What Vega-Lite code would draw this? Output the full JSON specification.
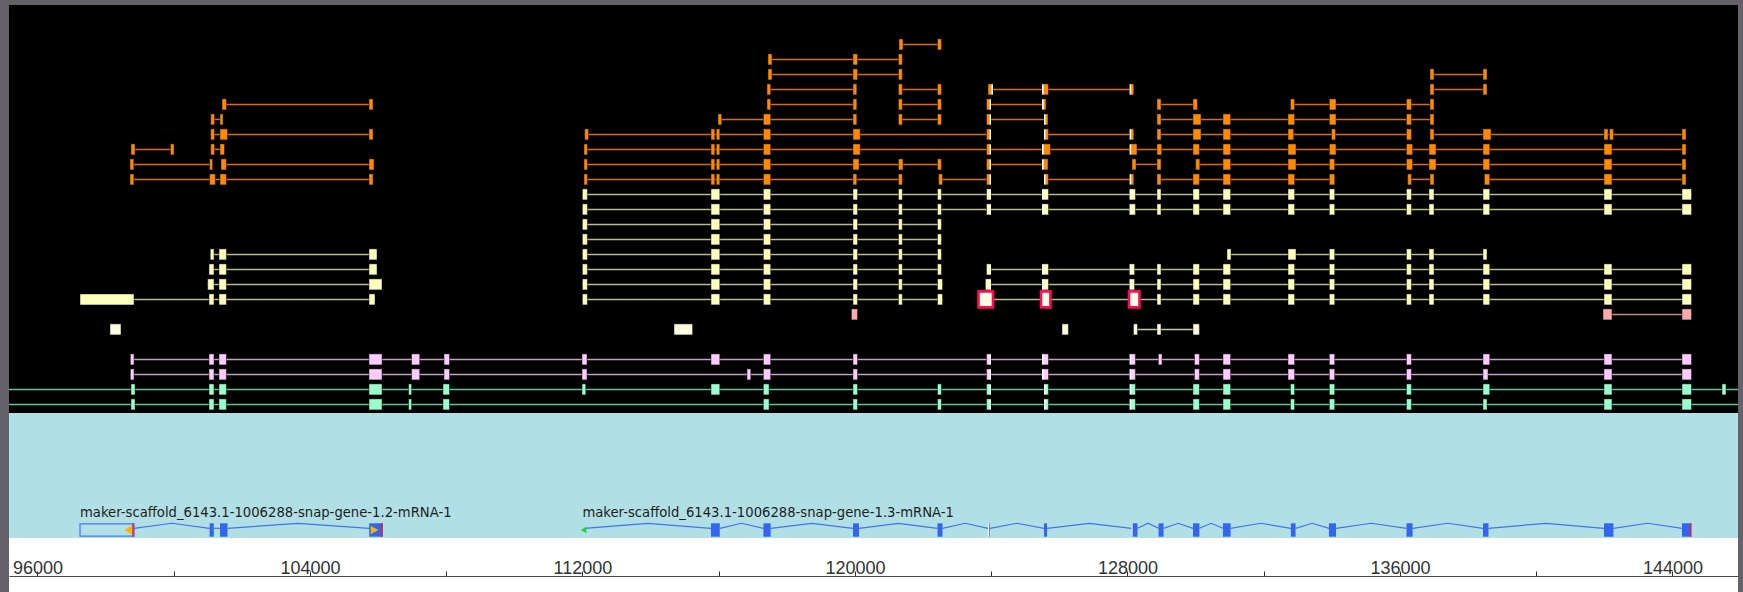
{
  "$schema": "https://vega.github.io/schema/vega-lite/v6.json",
  "background": "#646268",
  "padding": {"left": 8, "top": 5, "right": 6, "bottom": 0},
  "autosize": {"type": "pad"},
  "spacing": 0,
  "config": {"view": {"stroke": null}, "concat": {"spacing": 0}},
  "resolve": {"scale": {"x": "independent", "y": "independent", "fill": "independent", "stroke": "independent", "shape": "independent"}},
  "datasets": {
    "feat": [
      {"r":0,"t":"o","s":121294,"e":122539},
      {"r":1,"t":"o","s":117448,"e":121391},
      {"r":2,"t":"o","s":117448,"e":121391},{"r":2,"t":"o","s":136883,"e":138556},
      {"r":3,"t":"o","s":117419,"e":120055},{"r":3,"t":"o","s":121279,"e":122539},{"r":3,"t":"o","s":123907,"e":128187},{"r":3,"t":"o","s":136883,"e":138556},
      {"r":4,"t":"o","s":101419,"e":105852},{"r":4,"t":"o","s":117419,"e":120055},{"r":4,"t":"o","s":121279,"e":122539},{"r":4,"t":"o","s":123863,"e":125610},{"r":4,"t":"o","s":128868,"e":130054},{"r":4,"t":"o","s":132787,"e":137000},
      {"r":5,"t":"o","s":101088,"e":101449},{"r":5,"t":"o","s":115980,"e":120055},{"r":5,"t":"o","s":121279,"e":122539},{"r":5,"t":"o","s":123863,"e":125668},{"r":5,"t":"o","s":128868,"e":137000},
      {"r":6,"t":"o","s":101088,"e":105852},{"r":6,"t":"o","s":112067,"e":123995},{"r":6,"t":"o","s":125551,"e":128187},{"r":6,"t":"o","s":128868,"e":136337},{"r":6,"t":"o","s":136883,"e":144398},
      {"r":7,"t":"o","s":98748,"e":100010},{"r":7,"t":"o","s":101088,"e":101493},{"r":7,"t":"o","s":112047,"e":144398},
      {"r":8,"t":"o","s":98718,"e":101143},{"r":8,"t":"o","s":101390,"e":105882},{"r":8,"t":"o","s":112047,"e":122539},{"r":8,"t":"o","s":123863,"e":125668},{"r":8,"t":"o","s":128134,"e":128986},{"r":8,"t":"o","s":130004,"e":144398},
      {"r":9,"t":"o","s":98718,"e":105852},{"r":9,"t":"o","s":112047,"e":121391},{"r":9,"t":"o","s":122459,"e":123995},{"r":9,"t":"o","s":125551,"e":128187},{"r":9,"t":"o","s":128868,"e":134085},{"r":9,"t":"o","s":136228,"e":137000},{"r":9,"t":"o","s":138480,"e":144398},
      {"r":10,"t":"y","s":112000,"e":144559},
      {"r":11,"t":"y","s":112000,"e":144559},
      {"r":12,"t":"y","s":112000,"e":122539},
      {"r":13,"t":"y","s":112000,"e":122539},
      {"r":14,"t":"y","s":101076,"e":105970},{"r":14,"t":"y","s":112000,"e":122539},{"r":14,"t":"y","s":130923,"e":138556},
      {"r":15,"t":"y","s":101038,"e":105970},{"r":15,"t":"y","s":112000,"e":122539},{"r":15,"t":"y","s":123863,"e":144559},
      {"r":16,"t":"y","s":100999,"e":106117},{"r":16,"t":"y","s":112000,"e":122571},{"r":16,"t":"y","s":123830,"e":144559},
      {"r":17,"t":"y","s":97251,"e":105911},{"r":17,"t":"y","s":112000,"e":122571},{"r":17,"t":"y","s":123628,"e":144559},
      {"r":18,"t":"s","s":141962,"e":144559},
      {"r":19,"t":"c","s":128178,"e":130113},
      {"r":21,"t":"p","s":98730,"e":144559},
      {"r":22,"t":"p","s":98730,"e":144559},
      {"r":23,"t":"g","s":95166,"e":145925},
      {"r":24,"t":"g","s":95166,"e":145925}
    ],
    "ex": [
      {"r":0,"t":"o","s":121294,"e":121411},{"r":0,"t":"o","s":122424,"e":122539},
      {"r":1,"t":"o","s":117448,"e":117566},{"r":1,"t":"o","s":119943,"e":120076},{"r":1,"t":"o","s":121279,"e":121391},
      {"r":2,"t":"o","s":117448,"e":117566},{"r":2,"t":"o","s":119943,"e":120076},{"r":2,"t":"o","s":121279,"e":121391},{"r":2,"t":"o","s":136883,"e":137000},{"r":2,"t":"o","s":138439,"e":138556},
      {"r":3,"t":"o","s":117419,"e":117527},{"r":3,"t":"o","s":119943,"e":120055},{"r":3,"t":"o","s":121279,"e":121391},{"r":3,"t":"o","s":122424,"e":122539},{"r":3,"t":"o","s":123907,"e":124054},{"r":3,"t":"o","s":125492,"e":125683},{"r":3,"t":"o","s":128066,"e":128187},{"r":3,"t":"o","s":136883,"e":137000},{"r":3,"t":"o","s":138439,"e":138556},
      {"r":4,"t":"o","s":101419,"e":101551},{"r":4,"t":"o","s":105735,"e":105852},{"r":4,"t":"o","s":117419,"e":117527},{"r":4,"t":"o","s":119943,"e":120055},{"r":4,"t":"o","s":121279,"e":121391},{"r":4,"t":"o","s":122424,"e":122539},{"r":4,"t":"o","s":123863,"e":123995},{"r":4,"t":"o","s":125492,"e":125610},{"r":4,"t":"o","s":128868,"e":128986},{"r":4,"t":"o","s":129925,"e":130054},{"r":4,"t":"o","s":132787,"e":132908},{"r":4,"t":"o","s":133929,"e":134123},{"r":4,"t":"o","s":136193,"e":136337},{"r":4,"t":"o","s":136883,"e":137000},
      {"r":5,"t":"o","s":101088,"e":101199},{"r":5,"t":"o","s":101361,"e":101449},{"r":5,"t":"o","s":115980,"e":116089},{"r":5,"t":"o","s":117313,"e":117527},{"r":5,"t":"o","s":119943,"e":120055},{"r":5,"t":"o","s":121279,"e":121391},{"r":5,"t":"o","s":122424,"e":122539},{"r":5,"t":"o","s":123863,"e":123995},{"r":5,"t":"o","s":125551,"e":125668},{"r":5,"t":"o","s":128868,"e":128986},{"r":5,"t":"o","s":129925,"e":130160},{"r":5,"t":"o","s":130806,"e":131029},{"r":5,"t":"o","s":132714,"e":132908},{"r":5,"t":"o","s":133929,"e":134123},{"r":5,"t":"o","s":136193,"e":136337},{"r":5,"t":"o","s":136883,"e":137000},
      {"r":6,"t":"o","s":101088,"e":101199},{"r":6,"t":"o","s":101361,"e":101581},{"r":6,"t":"o","s":105735,"e":105852},{"r":6,"t":"o","s":112067,"e":112179},{"r":6,"t":"o","s":115775,"e":115886},{"r":6,"t":"o","s":115931,"e":116033},{"r":6,"t":"o","s":117313,"e":117527},{"r":6,"t":"o","s":119943,"e":120155},{"r":6,"t":"o","s":123863,"e":123995},{"r":6,"t":"o","s":125551,"e":125683},{"r":6,"t":"o","s":128066,"e":128187},{"r":6,"t":"o","s":128868,"e":128986},{"r":6,"t":"o","s":129925,"e":130160},{"r":6,"t":"o","s":130806,"e":131029},{"r":6,"t":"o","s":132714,"e":132881},{"r":6,"t":"o","s":133991,"e":134108},{"r":6,"t":"o","s":136193,"e":136337},{"r":6,"t":"o","s":136883,"e":137000},{"r":6,"t":"o","s":138439,"e":138674},{"r":6,"t":"o","s":141991,"e":142108},{"r":6,"t":"o","s":142152,"e":142269},{"r":6,"t":"o","s":144281,"e":144398},
      {"r":7,"t":"o","s":98748,"e":98865},{"r":7,"t":"o","s":99907,"e":100010},{"r":7,"t":"o","s":101088,"e":101199},{"r":7,"t":"o","s":101361,"e":101493},{"r":7,"t":"o","s":112047,"e":112146},{"r":7,"t":"o","s":115775,"e":115886},{"r":7,"t":"o","s":115931,"e":116033},{"r":7,"t":"o","s":117313,"e":117527},{"r":7,"t":"o","s":119943,"e":120155},{"r":7,"t":"o","s":123863,"e":123995},{"r":7,"t":"o","s":125492,"e":125739},{"r":7,"t":"o","s":128066,"e":128281},{"r":7,"t":"o","s":128868,"e":129006},{"r":7,"t":"o","s":129925,"e":130113},{"r":7,"t":"o","s":130806,"e":131029},{"r":7,"t":"o","s":132714,"e":132949},{"r":7,"t":"o","s":133929,"e":134123},{"r":7,"t":"o","s":136193,"e":136372},{"r":7,"t":"o","s":136854,"e":137059},{"r":7,"t":"o","s":138439,"e":138636},{"r":7,"t":"o","s":141991,"e":142225},{"r":7,"t":"o","s":144281,"e":144398},
      {"r":8,"t":"o","s":98718,"e":98830},{"r":8,"t":"o","s":101055,"e":101143},{"r":8,"t":"o","s":101390,"e":101548},{"r":8,"t":"o","s":105735,"e":105882},{"r":8,"t":"o","s":112047,"e":112146},{"r":8,"t":"o","s":115775,"e":115886},{"r":8,"t":"o","s":115931,"e":116033},{"r":8,"t":"o","s":117313,"e":117527},{"r":8,"t":"o","s":119943,"e":120120},{"r":8,"t":"o","s":121279,"e":121411},{"r":8,"t":"o","s":122424,"e":122539},{"r":8,"t":"o","s":123863,"e":123995},{"r":8,"t":"o","s":125492,"e":125668},{"r":8,"t":"o","s":128134,"e":128252},{"r":8,"t":"o","s":128868,"e":128986},{"r":8,"t":"o","s":130004,"e":130125},{"r":8,"t":"o","s":130806,"e":131029},{"r":8,"t":"o","s":132714,"e":132949},{"r":8,"t":"o","s":133929,"e":134085},{"r":8,"t":"o","s":136193,"e":136372},{"r":8,"t":"o","s":136854,"e":137059},{"r":8,"t":"o","s":138439,"e":138636},{"r":8,"t":"o","s":141991,"e":142225},{"r":8,"t":"o","s":144281,"e":144398},
      {"r":9,"t":"o","s":98718,"e":98830},{"r":9,"t":"o","s":101055,"e":101223},{"r":9,"t":"o","s":101361,"e":101548},{"r":9,"t":"o","s":105735,"e":105852},{"r":9,"t":"o","s":112047,"e":112146},{"r":9,"t":"o","s":115775,"e":115886},{"r":9,"t":"o","s":115931,"e":116033},{"r":9,"t":"o","s":117313,"e":117527},{"r":9,"t":"o","s":119943,"e":120055},{"r":9,"t":"o","s":121279,"e":121391},{"r":9,"t":"o","s":122459,"e":122571},{"r":9,"t":"o","s":123863,"e":123995},{"r":9,"t":"o","s":125551,"e":125683},{"r":9,"t":"o","s":128066,"e":128187},{"r":9,"t":"o","s":128868,"e":128986},{"r":9,"t":"o","s":129925,"e":130113},{"r":9,"t":"o","s":130806,"e":131029},{"r":9,"t":"o","s":132714,"e":132908},{"r":9,"t":"o","s":133929,"e":134085},{"r":9,"t":"o","s":136228,"e":136337},{"r":9,"t":"o","s":136883,"e":137000},{"r":9,"t":"o","s":138480,"e":138636},{"r":9,"t":"o","s":141991,"e":142225},{"r":9,"t":"o","s":144281,"e":144398},
      {"r":10,"t":"y","s":112000,"e":112146},{"r":10,"t":"y","s":115775,"e":116033},{"r":10,"t":"y","s":117313,"e":117527},{"r":10,"t":"y","s":119943,"e":120076},{"r":10,"t":"y","s":121279,"e":121391},{"r":10,"t":"y","s":122424,"e":122539},{"r":10,"t":"y","s":123863,"e":123995},{"r":10,"t":"y","s":125492,"e":125683},{"r":10,"t":"y","s":128066,"e":128235},{"r":10,"t":"y","s":128868,"e":128986},{"r":10,"t":"y","s":129925,"e":130113},{"r":10,"t":"y","s":130806,"e":131029},{"r":10,"t":"y","s":132714,"e":132908},{"r":10,"t":"y","s":133929,"e":134085},{"r":10,"t":"y","s":136193,"e":136337},{"r":10,"t":"y","s":136854,"e":137000},{"r":10,"t":"y","s":138439,"e":138636},{"r":10,"t":"y","s":141991,"e":142225},{"r":10,"t":"y","s":144281,"e":144559},
      {"r":11,"t":"y","s":112000,"e":112146},{"r":11,"t":"y","s":115775,"e":116033},{"r":11,"t":"y","s":117313,"e":117527},{"r":11,"t":"y","s":119943,"e":120076},{"r":11,"t":"y","s":121279,"e":121391},{"r":11,"t":"y","s":122424,"e":122539},{"r":11,"t":"y","s":123863,"e":123995},{"r":11,"t":"y","s":125492,"e":125683},{"r":11,"t":"y","s":128066,"e":128235},{"r":11,"t":"y","s":128868,"e":128986},{"r":11,"t":"y","s":129925,"e":130113},{"r":11,"t":"y","s":130806,"e":131029},{"r":11,"t":"y","s":132714,"e":132908},{"r":11,"t":"y","s":133929,"e":134085},{"r":11,"t":"y","s":136193,"e":136337},{"r":11,"t":"y","s":136854,"e":137000},{"r":11,"t":"y","s":138439,"e":138636},{"r":11,"t":"y","s":141991,"e":142225},{"r":11,"t":"y","s":144281,"e":144559},
      {"r":12,"t":"y","s":112000,"e":112146},{"r":12,"t":"y","s":115775,"e":116033},{"r":12,"t":"y","s":117313,"e":117527},{"r":12,"t":"y","s":119943,"e":120076},{"r":12,"t":"y","s":121279,"e":121391},{"r":12,"t":"y","s":122424,"e":122539},
      {"r":13,"t":"y","s":112000,"e":112146},{"r":13,"t":"y","s":115775,"e":116033},{"r":13,"t":"y","s":117313,"e":117527},{"r":13,"t":"y","s":119943,"e":120076},{"r":13,"t":"y","s":121279,"e":121391},{"r":13,"t":"y","s":122424,"e":122539},
      {"r":14,"t":"y","s":101076,"e":101184},{"r":14,"t":"y","s":101331,"e":101548},{"r":14,"t":"y","s":105735,"e":105970},{"r":14,"t":"y","s":112000,"e":112146},{"r":14,"t":"y","s":115775,"e":116033},{"r":14,"t":"y","s":117313,"e":117527},{"r":14,"t":"y","s":119943,"e":120076},{"r":14,"t":"y","s":121279,"e":121391},{"r":14,"t":"y","s":122424,"e":122539},{"r":14,"t":"y","s":130923,"e":131041},{"r":14,"t":"y","s":132714,"e":132949},{"r":14,"t":"y","s":133929,"e":134085},{"r":14,"t":"y","s":136193,"e":136337},{"r":14,"t":"y","s":136854,"e":137000},{"r":14,"t":"y","s":138439,"e":138556},
      {"r":15,"t":"y","s":101038,"e":101184},{"r":15,"t":"y","s":101331,"e":101548},{"r":15,"t":"y","s":105735,"e":105970},{"r":15,"t":"y","s":112000,"e":112146},{"r":15,"t":"y","s":115775,"e":116033},{"r":15,"t":"y","s":117313,"e":117527},{"r":15,"t":"y","s":119943,"e":120076},{"r":15,"t":"y","s":121279,"e":121391},{"r":15,"t":"y","s":122424,"e":122539},{"r":15,"t":"y","s":123863,"e":123995},{"r":15,"t":"y","s":125492,"e":125683},{"r":15,"t":"y","s":128066,"e":128210},{"r":15,"t":"y","s":128868,"e":128986},{"r":15,"t":"y","s":129925,"e":130113},{"r":15,"t":"y","s":130806,"e":131029},{"r":15,"t":"y","s":132714,"e":132908},{"r":15,"t":"y","s":133929,"e":134085},{"r":15,"t":"y","s":136193,"e":136337},{"r":15,"t":"y","s":136854,"e":137000},{"r":15,"t":"y","s":138439,"e":138636},{"r":15,"t":"y","s":141991,"e":142225},{"r":15,"t":"y","s":144281,"e":144559},
      {"r":16,"t":"y","s":100999,"e":101184},{"r":16,"t":"y","s":101331,"e":101548},{"r":16,"t":"y","s":105735,"e":106117},{"r":16,"t":"y","s":112000,"e":112146},{"r":16,"t":"y","s":115775,"e":116033},{"r":16,"t":"y","s":117313,"e":117527},{"r":16,"t":"y","s":119943,"e":120076},{"r":16,"t":"y","s":121279,"e":121391},{"r":16,"t":"y","s":122424,"e":122571},{"r":16,"t":"y","s":123830,"e":123995},{"r":16,"t":"y","s":125492,"e":125683},{"r":16,"t":"y","s":128066,"e":128210},{"r":16,"t":"y","s":128868,"e":128986},{"r":16,"t":"y","s":129925,"e":130113},{"r":16,"t":"y","s":130806,"e":131029},{"r":16,"t":"y","s":132714,"e":132908},{"r":16,"t":"y","s":133929,"e":134085},{"r":16,"t":"y","s":136193,"e":136337},{"r":16,"t":"y","s":136854,"e":137000},{"r":16,"t":"y","s":138439,"e":138636},{"r":16,"t":"y","s":141991,"e":142225},{"r":16,"t":"y","s":144281,"e":144559},
      {"r":17,"t":"y","s":97251,"e":98836},{"r":17,"t":"y","s":101038,"e":101184},{"r":17,"t":"y","s":101331,"e":101548},{"r":17,"t":"y","s":105735,"e":105911},{"r":17,"t":"y","s":112000,"e":112146},{"r":17,"t":"y","s":115775,"e":116033},{"r":17,"t":"y","s":117313,"e":117527},{"r":17,"t":"y","s":119943,"e":120076},{"r":17,"t":"y","s":121279,"e":121391},{"r":17,"t":"y","s":122424,"e":122571},{"r":17,"t":"y","s":128868,"e":128986},{"r":17,"t":"y","s":129925,"e":130113},{"r":17,"t":"y","s":130806,"e":131029},{"r":17,"t":"y","s":132714,"e":132908},{"r":17,"t":"y","s":133929,"e":134085},{"r":17,"t":"y","s":136193,"e":136337},{"r":17,"t":"y","s":136854,"e":137000},{"r":17,"t":"y","s":138439,"e":138636},{"r":17,"t":"y","s":141991,"e":142225},{"r":17,"t":"y","s":144281,"e":144559},
      {"r":18,"t":"s","s":119897,"e":120076},{"r":18,"t":"s","s":141962,"e":142225},{"r":18,"t":"s","s":144281,"e":144559},
      {"r":19,"t":"c","s":98131,"e":98454},{"r":19,"t":"c","s":114689,"e":115235},{"r":19,"t":"c","s":126079,"e":126267},{"r":19,"t":"c","s":128178,"e":128296},{"r":19,"t":"c","s":128868,"e":128986},{"r":19,"t":"c","s":129925,"e":130113},
      {"r":21,"t":"p","s":98730,"e":98836},{"r":21,"t":"p","s":101038,"e":101184},{"r":21,"t":"p","s":101331,"e":101548},{"r":21,"t":"p","s":105735,"e":106117},{"r":21,"t":"p","s":106985,"e":107223},{"r":21,"t":"p","s":107937,"e":108098},{"r":21,"t":"p","s":111988,"e":112135},{"r":21,"t":"p","s":115775,"e":116033},{"r":21,"t":"p","s":117313,"e":117527},{"r":21,"t":"p","s":119943,"e":120076},{"r":21,"t":"p","s":123863,"e":123995},{"r":21,"t":"p","s":125492,"e":125683},{"r":21,"t":"p","s":128066,"e":128235},{"r":21,"t":"p","s":128909,"e":129015},{"r":21,"t":"p","s":129969,"e":130113},{"r":21,"t":"p","s":130806,"e":131029},{"r":21,"t":"p","s":132714,"e":132908},{"r":21,"t":"p","s":133929,"e":134085},{"r":21,"t":"p","s":136193,"e":136337},{"r":21,"t":"p","s":138439,"e":138636},{"r":21,"t":"p","s":141991,"e":142225},{"r":21,"t":"p","s":144281,"e":144559},
      {"r":22,"t":"p","s":98730,"e":98836},{"r":22,"t":"p","s":101038,"e":101184},{"r":22,"t":"p","s":101331,"e":101548},{"r":22,"t":"p","s":105735,"e":106117},{"r":22,"t":"p","s":106985,"e":107223},{"r":22,"t":"p","s":107937,"e":108098},{"r":22,"t":"p","s":111988,"e":112135},{"r":22,"t":"p","s":116832,"e":116943},{"r":22,"t":"p","s":117313,"e":117527},{"r":22,"t":"p","s":119943,"e":120076},{"r":22,"t":"p","s":123863,"e":123995},{"r":22,"t":"p","s":125492,"e":125683},{"r":22,"t":"p","s":128066,"e":128235},{"r":22,"t":"p","s":129969,"e":130113},{"r":22,"t":"p","s":130806,"e":131029},{"r":22,"t":"p","s":132714,"e":132908},{"r":22,"t":"p","s":133929,"e":134085},{"r":22,"t":"p","s":136193,"e":136337},{"r":22,"t":"p","s":138439,"e":138585},{"r":22,"t":"p","s":141991,"e":142225},{"r":22,"t":"p","s":144281,"e":144559},
      {"r":23,"t":"g","s":98748,"e":98865},{"r":23,"t":"g","s":101038,"e":101184},{"r":23,"t":"g","s":101331,"e":101548},{"r":23,"t":"g","s":105735,"e":106117},{"r":23,"t":"g","s":106897,"e":106985},{"r":23,"t":"g","s":107907,"e":108098},{"r":23,"t":"g","s":111988,"e":112099},{"r":23,"t":"g","s":115775,"e":116033},{"r":23,"t":"g","s":117313,"e":117480},{"r":23,"t":"g","s":119943,"e":120076},{"r":23,"t":"g","s":122424,"e":122539},{"r":23,"t":"g","s":123863,"e":123995},{"r":23,"t":"g","s":125551,"e":125683},{"r":23,"t":"g","s":128066,"e":128235},{"r":23,"t":"g","s":129925,"e":130113},{"r":23,"t":"g","s":130806,"e":131029},{"r":23,"t":"g","s":132787,"e":132908},{"r":23,"t":"g","s":133929,"e":134085},{"r":23,"t":"g","s":136193,"e":136337},{"r":23,"t":"g","s":138439,"e":138636},{"r":23,"t":"g","s":141991,"e":142225},{"r":23,"t":"g","s":144281,"e":144559},{"r":23,"t":"g","s":145456,"e":145573},
      {"r":24,"t":"g","s":98748,"e":98865},{"r":24,"t":"g","s":101038,"e":101184},{"r":24,"t":"g","s":101331,"e":101548},{"r":24,"t":"g","s":105735,"e":106117},{"r":24,"t":"g","s":106897,"e":106985},{"r":24,"t":"g","s":107907,"e":108098},{"r":24,"t":"g","s":117313,"e":117480},{"r":24,"t":"g","s":119943,"e":120076},{"r":24,"t":"g","s":122424,"e":122539},{"r":24,"t":"g","s":123863,"e":123995},{"r":24,"t":"g","s":125551,"e":125683},{"r":24,"t":"g","s":128066,"e":128235},{"r":24,"t":"g","s":129925,"e":130113},{"r":24,"t":"g","s":130806,"e":131029},{"r":24,"t":"g","s":132787,"e":132908},{"r":24,"t":"g","s":133929,"e":134085},{"r":24,"t":"g","s":136193,"e":136337},{"r":24,"t":"g","s":138439,"e":138556},{"r":24,"t":"g","s":141991,"e":142225},{"r":24,"t":"g","s":144281,"e":144559}
    ],
    "sel": [
      {"r":17,"s":123628,"e":124054},{"r":17,"s":125463,"e":125739},{"r":17,"s":128046,"e":128354}
    ],
    "ws": [
      {"r":3,"s":124010,"e":124054},
      {"r":4,"s":123955,"e":123995},{"r":5,"s":123955,"e":123995},{"r":6,"s":123955,"e":123995},{"r":7,"s":123955,"e":123995},{"r":8,"s":123955,"e":123995},{"r":9,"s":123955,"e":123995},{"r":10,"s":123955,"e":123995},{"r":11,"s":123955,"e":123995},{"r":15,"s":123955,"e":123995},{"r":16,"s":123955,"e":123995},{"r":21,"s":123955,"e":123995},{"r":22,"s":123955,"e":123995},{"r":23,"s":123955,"e":123995},{"r":24,"s":123955,"e":123995},
      {"r":3,"s":125492,"e":125540},{"r":4,"s":125492,"e":125540},{"r":7,"s":125492,"e":125540},{"r":8,"s":125492,"e":125540},{"r":10,"s":125492,"e":125540},{"r":11,"s":125492,"e":125540},{"r":15,"s":125492,"e":125540},{"r":16,"s":125492,"e":125540},{"r":21,"s":125492,"e":125540},{"r":22,"s":125492,"e":125540},
      {"r":5,"s":125551,"e":125595},{"r":6,"s":125551,"e":125595},{"r":9,"s":125551,"e":125595},{"r":23,"s":125551,"e":125595},{"r":24,"s":125551,"e":125595},
      {"r":3,"s":128066,"e":128110},{"r":6,"s":128066,"e":128110},{"r":7,"s":128066,"e":128110},{"r":9,"s":128066,"e":128110},{"r":10,"s":128066,"e":128110},{"r":11,"s":128066,"e":128110},{"r":15,"s":128066,"e":128110},{"r":16,"s":128066,"e":128110},{"r":21,"s":128066,"e":128110},{"r":22,"s":128066,"e":128110},{"r":23,"s":128066,"e":128110},{"r":24,"s":128066,"e":128110}
    ],
    "hat": [
      {"h":"a1","x":98836,"v":0.28},{"h":"a1","x":99945,"v":1.12},{"h":"a1","x":101055,"v":0.28},
      {"h":"a2","x":101178,"v":0.28},{"h":"a2","x":101361,"v":0.28},
      {"h":"a3","x":101581,"v":0.28},{"h":"a3","x":103660,"v":1.12},{"h":"a3","x":105740,"v":0.28},
      {"h":"b1","x":112060,"v":0.28},{"h":"b1","x":113918,"v":1.12},{"h":"b1","x":115775,"v":0.28},
      {"h":"b2","x":116033,"v":0.28},{"h":"b2","x":116673,"v":1.12},{"h":"b2","x":117313,"v":0.28},
      {"h":"b3","x":117527,"v":0.28},{"h":"b3","x":118735,"v":1.12},{"h":"b3","x":119943,"v":0.28},
      {"h":"b4","x":120120,"v":0.28},{"h":"b4","x":121272,"v":1.12},{"h":"b4","x":122424,"v":0.28},
      {"h":"b5","x":122571,"v":0.28},{"h":"b5","x":123239,"v":1.12},{"h":"b5","x":123907,"v":0.28},
      {"h":"b6","x":123966,"v":0.28},{"h":"b6","x":124759,"v":1.12},{"h":"b6","x":125551,"v":0.28},
      {"h":"b7","x":125640,"v":0.28},{"h":"b7","x":126880,"v":1.12},{"h":"b7","x":128120,"v":0.28},
      {"h":"b8","x":128296,"v":0.28},{"h":"b8","x":128605,"v":1.12},{"h":"b8","x":128914,"v":0.28},
      {"h":"b9","x":129060,"v":0.28},{"h":"b9","x":129493,"v":1.12},{"h":"b9","x":129925,"v":0.28},
      {"h":"b10","x":130113,"v":0.28},{"h":"b10","x":130460,"v":1.12},{"h":"b10","x":130806,"v":0.28},
      {"h":"b11","x":131029,"v":0.28},{"h":"b11","x":131914,"v":1.12},{"h":"b11","x":132798,"v":0.28},
      {"h":"b12","x":132937,"v":0.28},{"h":"b12","x":133427,"v":1.12},{"h":"b12","x":133916,"v":0.28},
      {"h":"b13","x":134123,"v":0.28},{"h":"b13","x":135158,"v":1.12},{"h":"b13","x":136193,"v":0.28},
      {"h":"b14","x":136372,"v":0.28},{"h":"b14","x":137406,"v":1.12},{"h":"b14","x":138439,"v":0.28},
      {"h":"b15","x":138600,"v":0.28},{"h":"b15","x":140296,"v":1.12},{"h":"b15","x":141991,"v":0.28},
      {"h":"b16","x":142269,"v":0.28},{"h":"b16","x":143275,"v":1.12},{"h":"b16","x":144281,"v":0.28}
    ],
    "gex": [
      {"s":101055,"e":101178,"v":0},{"s":101361,"e":101581,"v":0},{"s":105740,"e":106145,"v":0},
      {"s":115775,"e":116033,"v":0},{"s":117313,"e":117527,"v":0},{"s":119943,"e":120120,"v":0},{"s":122424,"e":122571,"v":0},{"s":123907,"e":123966,"v":0},{"s":125551,"e":125640,"v":0},{"s":128120,"e":128296,"v":0},{"s":128914,"e":129060,"v":0},{"s":129925,"e":130113,"v":0},{"s":130806,"e":131029,"v":0},{"s":132798,"e":132937,"v":0},{"s":133916,"e":134123,"v":0},{"s":136193,"e":136372,"v":0},{"s":138439,"e":138600,"v":0},{"s":141991,"e":142269,"v":0},{"s":144281,"e":144559,"v":0}
    ],
    "utr": [{"s":97251,"e":98836,"v":0}],
    "tri": [{"x":98660,"v":0,"sh":"triangle-left"},{"x":105896,"v":0,"sh":"triangle-right"}],
    "grn": [{"x":112035,"v":0}],
    "red": [{"x":98807,"v":0},{"x":106101,"v":0},{"x":144530,"v":0}],
    "wl": [{"x":123925,"v":0},{"x":128135,"v":0}],
    "lab": [
      {"x":97251,"v":2.12,"l":"maker-scaffold_6143.1-1006288-snap-gene-1.2-mRNA-1"},
      {"x":112000,"v":2.12,"l":"maker-scaffold_6143.1-1006288-snap-gene-1.3-mRNA-1"}
    ]
  },
  "vconcat": [
    {
      "width": 1729,
      "height": 408,
      "view": {"fill": "#000000", "stroke": null},
      "layer": [
        {
          "data": {"name": "feat"},
          "mark": {"type": "rule", "strokeWidth": 1.5},
          "encoding": {
            "x": {"field": "s", "type": "quantitative", "scale": {"domain": [95166, 145925], "nice": false, "zero": false}, "axis": null},
            "x2": {"field": "e"},
            "y": {"field": "r", "type": "quantitative", "scale": {"domain": [-2.6267, 24.5733], "nice": false, "zero": false, "reverse": true}, "axis": null},
            "stroke": {"field": "t", "type": "nominal", "scale": {"domain": ["o","y","s","c","p","g"], "range": ["#d86f00","#b9b98c","#c98888","#c8c8a0","#c79cc7","#5fc497"]}, "legend": null}
          }
        },
        {
          "data": {"name": "ex"},
          "mark": {"type": "rect", "yOffset": -5.5, "y2Offset": 5.5, "stroke": "#000000", "strokeOpacity": 0.45, "strokeWidth": 1},
          "encoding": {
            "x": {"field": "s", "type": "quantitative", "scale": {"domain": [95166, 145925], "nice": false, "zero": false}, "axis": null},
            "x2": {"field": "e"},
            "y": {"field": "r", "type": "quantitative", "scale": {"domain": [-2.6267, 24.5733], "nice": false, "zero": false, "reverse": true}, "axis": null},
            "y2": {"field": "r"},
            "fill": {"field": "t", "type": "nominal", "scale": {"domain": ["o","y","s","c","p","g"], "range": ["#ff8a00","#ffffbb","#ffaaaa","#fffbdc","#ffccff","#99ffcc"]}, "legend": null}
          }
        },
        {
          "data": {"name": "ws"},
          "mark": {"type": "rect", "yOffset": -5, "y2Offset": 5, "fill": "#ffffff"},
          "encoding": {
            "x": {"field": "s", "type": "quantitative", "scale": {"domain": [95166, 145925], "nice": false, "zero": false}, "axis": null},
            "x2": {"field": "e"},
            "y": {"field": "r", "type": "quantitative", "scale": {"domain": [-2.6267, 24.5733], "nice": false, "zero": false, "reverse": true}, "axis": null},
            "y2": {"field": "r"}
          }
        },
        {
          "data": {"name": "sel"},
          "mark": {"type": "rect", "yOffset": -8, "y2Offset": 8, "fill": "#ffffe4", "stroke": "#ff0a5a", "strokeWidth": 2.6},
          "encoding": {
            "x": {"field": "s", "type": "quantitative", "scale": {"domain": [95166, 145925], "nice": false, "zero": false}, "axis": null},
            "x2": {"field": "e"},
            "y": {"field": "r", "type": "quantitative", "scale": {"domain": [-2.6267, 24.5733], "nice": false, "zero": false, "reverse": true}, "axis": null},
            "y2": {"field": "r"}
          }
        }
      ]
    },
    {
      "width": 1729,
      "height": 125,
      "view": {"fill": "#b0dfe5", "stroke": null},
      "layer": [
        {
          "data": {"name": "hat"},
          "mark": {"type": "line", "color": "#4273f2", "strokeWidth": 1.2},
          "encoding": {
            "x": {"field": "x", "type": "quantitative", "scale": {"domain": [95166, 145925], "nice": false, "zero": false}, "axis": null},
            "y": {"field": "v", "type": "quantitative", "scale": {"domain": [-1.3333, 19.5], "nice": false, "zero": false}, "axis": null},
            "detail": {"field": "h"}
          }
        },
        {
          "data": {"name": "utr"},
          "mark": {"type": "rect", "yOffset": -6.2, "y2Offset": 6.2, "fill": "#b0dfe5", "stroke": "#4a78f0", "strokeWidth": 1.3},
          "encoding": {
            "x": {"field": "s", "type": "quantitative", "scale": {"domain": [95166, 145925], "nice": false, "zero": false}, "axis": null},
            "x2": {"field": "e"},
            "y": {"field": "v", "type": "quantitative", "scale": {"domain": [-1.3333, 19.5], "nice": false, "zero": false}, "axis": null},
            "y2": {"field": "v"}
          }
        },
        {
          "data": {"name": "gex"},
          "mark": {"type": "rect", "yOffset": -6.7, "y2Offset": 6.7, "fill": "#3366f0"},
          "encoding": {
            "x": {"field": "s", "type": "quantitative", "scale": {"domain": [95166, 145925], "nice": false, "zero": false}, "axis": null},
            "x2": {"field": "e"},
            "y": {"field": "v", "type": "quantitative", "scale": {"domain": [-1.3333, 19.5], "nice": false, "zero": false}, "axis": null},
            "y2": {"field": "v"}
          }
        },
        {
          "data": {"name": "wl"},
          "mark": {"type": "rule", "yOffset": -6.7, "y2Offset": 6.7, "stroke": "#ffffff", "strokeWidth": 1.2},
          "encoding": {
            "x": {"field": "x", "type": "quantitative", "scale": {"domain": [95166, 145925], "nice": false, "zero": false}, "axis": null},
            "y": {"field": "v", "type": "quantitative", "scale": {"domain": [-1.3333, 19.5], "nice": false, "zero": false}, "axis": null},
            "y2": {"field": "v"}
          }
        },
        {
          "data": {"name": "tri"},
          "mark": {"type": "point", "filled": true, "fill": "#f6b400", "opacity": 1, "size": 75, "strokeWidth": 0},
          "encoding": {
            "x": {"field": "x", "type": "quantitative", "scale": {"domain": [95166, 145925], "nice": false, "zero": false}, "axis": null},
            "y": {"field": "v", "type": "quantitative", "scale": {"domain": [-1.3333, 19.5], "nice": false, "zero": false}, "axis": null},
            "shape": {"field": "sh", "type": "nominal", "scale": null, "legend": null}
          }
        },
        {
          "data": {"name": "grn"},
          "mark": {"type": "point", "shape": "triangle-left", "filled": true, "fill": "#1fd23a", "opacity": 1, "size": 40, "strokeWidth": 0},
          "encoding": {
            "x": {"field": "x", "type": "quantitative", "scale": {"domain": [95166, 145925], "nice": false, "zero": false}, "axis": null},
            "y": {"field": "v", "type": "quantitative", "scale": {"domain": [-1.3333, 19.5], "nice": false, "zero": false}, "axis": null}
          }
        },
        {
          "data": {"name": "red"},
          "mark": {"type": "rule", "yOffset": -6.7, "y2Offset": 6.7, "stroke": "#e8203c", "strokeWidth": 1.6},
          "encoding": {
            "x": {"field": "x", "type": "quantitative", "scale": {"domain": [95166, 145925], "nice": false, "zero": false}, "axis": null},
            "y": {"field": "v", "type": "quantitative", "scale": {"domain": [-1.3333, 19.5], "nice": false, "zero": false}, "axis": null},
            "y2": {"field": "v"}
          }
        },
        {
          "data": {"name": "lab"},
          "mark": {"type": "text", "align": "left", "baseline": "alphabetic", "font": "DejaVu Sans", "fontSize": 13.2, "fill": "#1e1e1e"},
          "encoding": {
            "x": {"field": "x", "type": "quantitative", "scale": {"domain": [95166, 145925], "nice": false, "zero": false}, "axis": null},
            "y": {"field": "v", "type": "quantitative", "scale": {"domain": [-1.3333, 19.5], "nice": false, "zero": false}, "axis": null},
            "text": {"field": "l"}
          }
        }
      ]
    },
    {
      "width": 1729,
      "height": 54,
      "view": {"fill": "#ffffff", "stroke": null},
      "data": {"values": [{"x": 96000}]},
      "mark": {"type": "point", "opacity": 0},
      "encoding": {
        "x": {
          "field": "x", "type": "quantitative",
          "scale": {"domain": [95166, 145925], "nice": false, "zero": false},
          "axis": {
            "orient": "top", "offset": -38,
            "values": [96000,100000,104000,108000,112000,116000,120000,124000,128000,132000,136000,140000,144000],
            "format": "d",
            "labelExpr": "datum.value % 8000 === 0 ? datum.label : ''",
            "tickSize": 5, "tickWidth": 1, "tickColor": "#333333",
            "domainColor": "#4a4a4a", "domainWidth": 1.2,
            "labelFont": "Liberation Sans", "labelFontSize": 18, "labelColor": "#333333",
            "labelBaseline": "alphabetic", "labelPadding": -2,
            "labelFlush": false, "labelOverlap": false,
            "grid": false, "title": null
          }
        }
      }
    }
  ]
}
